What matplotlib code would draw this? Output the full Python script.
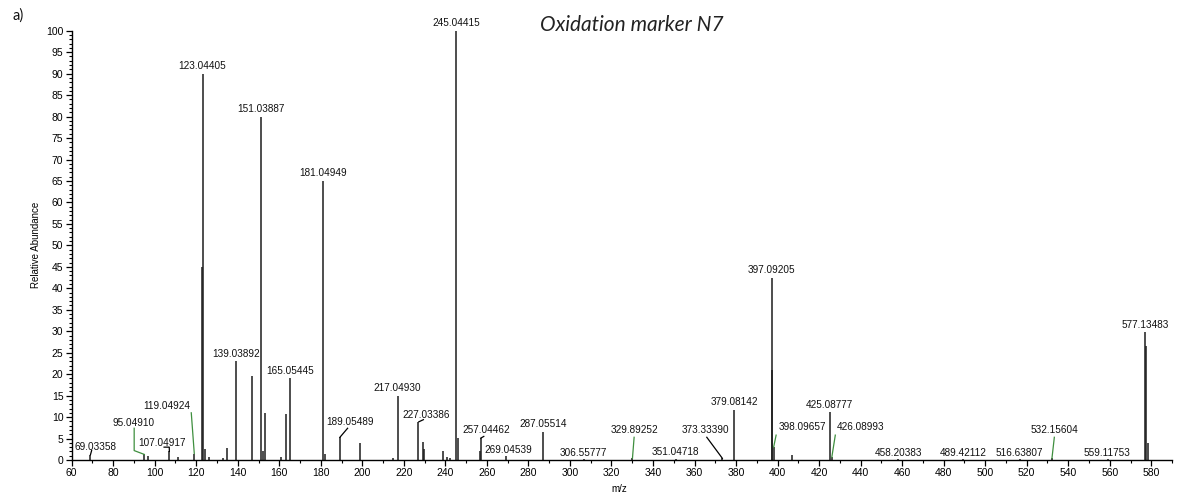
import matplotlib
matplotlib.use("Agg")
import matplotlib.pyplot as plt
from matplotlib.ticker import MultipleLocator

# ---------------- data ----------------
# labelled peaks (m/z, relative abundance)
label_mz = [69.03358, 95.04910, 107.04917, 119.04924, 123.04405, 139.03892,
            151.03887, 165.05445, 181.04949, 189.05489, 217.04930, 227.03386,
            245.04415, 257.04462, 269.04539, 287.05514, 306.55777, 329.89252,
            351.04718, 373.33390, 379.08142, 397.09205, 398.09657, 425.08777,
            426.08993, 458.20383, 489.42112, 516.63807, 532.15604, 559.11753,
            577.13483]
label_int = [1.2, 1.3, 2.0, 1.5, 90.0, 23.0,
             80.0, 19.0, 65.0, 5.3, 15.0, 8.9,
             100.0, 5.1, 1.0, 6.6, 0.3, 0.4,
             0.3, 0.4, 11.7, 42.4, 3.0, 11.1,
             0.6, 0.3, 0.3, 0.3, 0.4, 0.3,
             29.8]

# unlabelled peaks
other_mz = [97.0, 111.0, 122.9, 124.0, 126.0, 133.0, 135.0, 147.0, 152.0, 153.0,
            161.0, 163.0, 182.0, 199.0, 215.0, 229.0, 229.6, 239.0, 241.0, 242.0,
            246.0, 256.9, 397.35, 407.0, 577.4, 578.5]
other_int = [1.0, 0.7, 45.0, 2.5, 0.8, 0.5, 2.8, 19.5, 2.0, 11.0,
             0.8, 10.7, 1.5, 3.9, 0.5, 4.3, 2.5, 2.1, 0.8, 0.5,
             5.1, 2.1, 21.0, 1.2, 26.6, 3.9]

x_ticks = list(range(60, 581, 20))
y_ticks = list(range(0, 101, 5))

# ---------------- layout ----------------
GREEN = "#3f8f3f"
# label centre positions and leader lines for labels not placed right above their peak
label_layout = {
    "69.03358": dict(pos=(71.5, 3.1), leader=[(69.03, 1.2), (69.6, 2.2)], color="k"),
    "95.04910": dict(pos=(90.0, 8.7), leader=[(90.1, 7.4), (90.1, 2.2), (95.0, 1.3)], color=GREEN),
    "107.04917": dict(pos=(103.3, 4.0), leader=[(104.5, 3.0), (107.0, 3.0), (107.05, 2.0)], color="k"),
    "119.04924": dict(pos=(105.8, 12.7), leader=[(117.6, 11.0), (119.05, 1.5)], color=GREEN),
    "189.05489": dict(pos=(194.1, 8.8), leader=[(192.9, 7.4), (189.2, 5.3)], color="k"),
    "227.03386": dict(pos=(230.6, 10.6), leader=[(229.4, 9.4), (227.2, 8.9)], color="k"),
    "257.04462": dict(pos=(259.7, 6.9), leader=[(257.05, 5.1), (258.5, 5.5)], color="k"),
    "269.04539": dict(pos=(270.3, 2.3), leader=None, color="k"),
    "287.05514": dict(pos=(287.3, 8.4), leader=None, color="k"),
    "306.55777": dict(pos=(306.5, 1.7), leader=None, color="k"),
    "329.89252": dict(pos=(331.0, 6.9), leader=[(330.9, 5.3), (330.1, 0.4)], color=GREEN),
    "351.04718": dict(pos=(351.0, 1.8), leader=None, color="k"),
    "373.33390": dict(pos=(365.2, 6.9), leader=[(365.9, 5.3), (373.4, 0.4)], color="k"),
    "398.09657": dict(pos=(411.8, 7.8), leader=[(399.3, 5.8), (398.1, 3.0)], color=GREEN),
    "426.08993": dict(pos=(439.9, 7.8), leader=[(427.8, 5.8), (426.1, 0.6)], color=GREEN),
    "458.20383": dict(pos=(458.0, 1.7), leader=None, color="k"),
    "489.42112": dict(pos=(489.5, 1.7), leader=None, color="k"),
    "516.63807": dict(pos=(516.4, 1.7), leader=None, color="k"),
    "532.15604": dict(pos=(533.3, 6.9), leader=[(533.3, 5.3), (532.15, 0.4)], color=GREEN),
    "559.11753": dict(pos=(558.8, 1.7), leader=None, color="k"),
}

FONT = "Liberation Sans"
plt.rcParams["font.family"] = [FONT, "DejaVu Sans"]

fig = plt.figure(figsize=(11.77, 4.97), dpi=100)
ax = fig.add_axes([0.0609, 0.0744, 0.9349, 0.8638])

PEAK_COLOR = "#1c1c1c"
ax.vlines(other_mz, 0, other_int, color=PEAK_COLOR, lw=1.1)
ax.vlines(label_mz, 0, label_int, color=PEAK_COLOR, lw=1.1)

for mz, inten in zip(label_mz, label_int):
    txt = f"{mz:.5f}"
    lay = label_layout.get(txt)
    if lay is None:
        ax.text(mz, inten + 0.6, txt, ha="center", va="bottom", fontsize=7.2,
                color="#111111", clip_on=False)
    else:
        x, y = lay["pos"]
        ax.text(x, y, txt, ha="center", va="center", fontsize=7.2,
                color="#111111", clip_on=False)
        if lay["leader"]:
            xs = [p[0] for p in lay["leader"]]
            ys = [p[1] for p in lay["leader"]]
            ax.plot(xs, ys, color=lay["color"], lw=0.9)

ax.set_xlim(60, 590)
ax.set_ylim(0, 100)
ax.set_xticks(x_ticks)
ax.set_yticks(y_ticks)
ax.xaxis.set_minor_locator(MultipleLocator(10))
ax.yaxis.set_minor_locator(MultipleLocator(1))
ax.tick_params(axis="both", which="major", labelsize=7.5, length=4, width=0.9,
               direction="out", pad=2)
ax.tick_params(axis="both", which="minor", length=2.2, width=0.8, direction="out")
for s in ("top", "right"):
    ax.spines[s].set_visible(False)
for s in ("left", "bottom"):
    ax.spines[s].set_linewidth(1.0)

ax.set_xlabel("m/z", fontsize=7)
ax.xaxis.set_label_coords(0.498, -0.055)
ax.set_ylabel("Relative Abundance", fontsize=7)
ax.yaxis.set_label_coords(-0.028, 0.5)

fig.text(0.5367, 0.95, "Oxidation marker N7", family=["Lato", "DejaVu Sans"],
         style="italic", fontsize=15, ha="center", va="center", color="#222222")
fig.text(0.0157, 0.968, "a)", fontsize=10.5, ha="center", va="center",
         family=["Lato", "DejaVu Sans"], color="#111111")

fig.savefig("out.png", dpi=100)
